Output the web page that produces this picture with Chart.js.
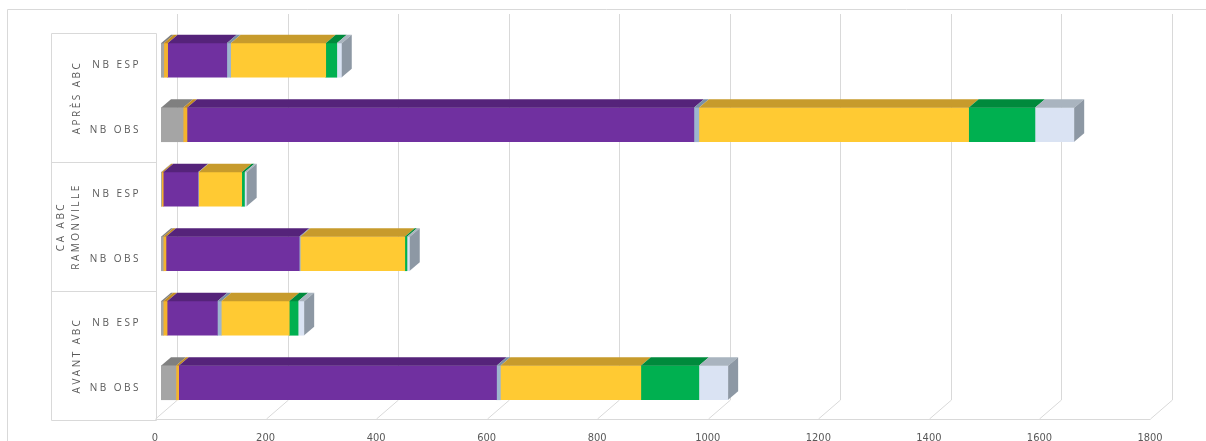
<!DOCTYPE html>
<html><head><meta charset="utf-8">
<script src="https://cdn.jsdelivr.net/npm/chart.js@4.4.1/dist/chart.umd.min.js"></script>
<style>html,body{margin:0;padding:0;background:#fff;overflow:hidden}#wrap{width:1206px;height:441px;position:relative}</style>
</head><body><div id="wrap"><canvas id="c" width="1206" height="441"></canvas></div>
<script>
// ---- data (top to bottom) ----
const categories = ['NB ESP', 'NB OBS', 'NB ESP', 'NB OBS', 'NB ESP', 'NB OBS'];
const groupLabels = [['APRÈS ABC'], ['CA ABC', 'RAMONVILLE'], ['AVANT ABC']];
const xTickValues = [0, 200, 400, 600, 800, 1000, 1200, 1400, 1600, 1800];
const serie1 = [5, 40, 1, 4, 4, 27];        // gris
const serie2 = [7, 7, 3, 5, 7, 5];          // orange
const serie3 = [107, 917, 63, 241, 91, 575]; // violet
const serie4 = [7, 9, 1, 2, 7, 7];          // bleu gris
const serie5 = [172, 488, 78, 189, 123, 254]; // jaune
const serie6 = [20, 120, 5, 4, 16, 105];    // vert
const serie7 = [9, 71, 4, 5, 11, 53];       // bleu pâle
const seriesNames = ['Série 1', 'Série 2', 'Série 3', 'Série 4', 'Série 5', 'Série 6', 'Série 7'];
const seriesValues = [serie1, serie2, serie3, serie4, serie5, serie6, serie7];

const frontColors = ['#A5A5A5', '#F4B32E', '#7030A0', '#9DB5CF', '#FFCA33', '#00B050', '#DAE3F3'];
const topColors   = ['#808080', '#C38C22', '#55237A', '#7A90A6', '#C79B2C', '#008A3C', '#A9B4BF'];
const sideColors  = ['#777777', '#B4811E', '#4A1F6B', '#6F8499', '#B78E28', '#007A35', '#8D98A4'];

const DX = 10, DY = 8.5;          // bar depth
const FDX = 22, FDY = 19;         // floor depth
const GRID = '#D9D9D9';

const threeD = {
  id: 'threeD',
  beforeDraw(chart) {
    const ctx = chart.ctx;
    ctx.letterSpacing = '2.5px';
    ctx.save();
    ctx.letterSpacing = '0px';
    ctx.strokeStyle = GRID; ctx.lineWidth = 1;
    ctx.beginPath();
    ctx.moveTo(7.5, 441); ctx.lineTo(7.5, 9.5); ctx.lineTo(1206, 9.5);
    ctx.stroke();
    ctx.restore();
  },
  beforeDatasetsDraw(chart) {
    const ctx = chart.ctx, xs = chart.scales.x, ys = chart.scales.y;
    const area = chart.chartArea;
    const floorY = area.bottom + 4;
    const backBottom = floorY - FDY;
    const backTop = area.top - FDY + 5;
    ctx.save();
    ctx.strokeStyle = GRID; ctx.lineWidth = 1;
    xTickValues.forEach(v => {
      const xf = Math.round(xs.getPixelForValue(v) - 6) + 0.5;
      const xb = xf + FDX;
      ctx.beginPath();
      ctx.moveTo(xb, backTop); ctx.lineTo(xb, backBottom); ctx.lineTo(xf, floorY);
      ctx.stroke();
    });
    const x0 = Math.round(xs.getPixelForValue(0) - 6) + 0.5;
    const x1 = Math.round(xs.getPixelForValue(1800) - 6) + 0.5;
    ctx.beginPath(); ctx.moveTo(x0, floorY + 0.5); ctx.lineTo(x1, floorY + 0.5); ctx.stroke();
    const step = ys.getPixelForValue(1) - ys.getPixelForValue(0);
    const b = [];
    for (let g = 0; g <= 3; g++) b.push(Math.round(ys.getPixelForValue(g * 2) - step / 2 + 5) + 0.5);
    const fl = 51.5, fr = x0 + 1;
    ctx.beginPath();
    ctx.moveTo(fl, b[0]); ctx.lineTo(fl, b[3]);
    ctx.moveTo(fr, b[0]); ctx.lineTo(fr, b[3]);
    b.forEach(y => { ctx.moveTo(fl, y); ctx.lineTo(fr, y); });
    ctx.stroke();
    ctx.restore();
  },
  afterDatasetsDraw(chart) {
    const ctx = chart.ctx;
    ctx.save();
    const n = categories.length;
    for (let i = 0; i < seriesValues.length; i++) {
      const meta = chart.getDatasetMeta(i);
      meta.data.forEach((el, j) => {
        if (!(seriesValues[i][j] > 0)) return;
        const p = el.getProps(['x', 'y', 'base', 'height'], true);
        const top = p.y - p.height / 2;
        ctx.fillStyle = topColors[i];
        ctx.beginPath();
        ctx.moveTo(p.base, top); ctx.lineTo(p.base + DX, top - DY);
        ctx.lineTo(p.x + DX, top - DY); ctx.lineTo(p.x, top); ctx.closePath();
        ctx.fill();
      });
    }
    for (let j = 0; j < n; j++) {
      let last = -1;
      for (let i = 0; i < seriesValues.length; i++) if (seriesValues[i][j] > 0) last = i;
      if (last < 0) continue;
      const p = chart.getDatasetMeta(last).data[j].getProps(['x', 'y', 'base', 'height'], true);
      const top = p.y - p.height / 2, bot = p.y + p.height / 2;
      ctx.fillStyle = sideColors[last];
      ctx.beginPath();
      ctx.moveTo(p.x, top); ctx.lineTo(p.x + DX, top - DY);
      ctx.lineTo(p.x + DX, bot - DY); ctx.lineTo(p.x, bot); ctx.closePath();
      ctx.fill();
    }
    ctx.restore();
    ctx.letterSpacing = '0px';
  },
  afterDraw(chart) {
    const ctx = chart.ctx, ys = chart.scales.y;
    ctx.save();
    ctx.letterSpacing = '2.5px';
    ctx.font = '10px "Open Sans", sans-serif';
    ctx.fillStyle = '#595959';
    ctx.textAlign = 'center'; ctx.textBaseline = 'middle';
    groupLabels.forEach((lines, g) => {
      const cy = (ys.getPixelForValue(g * 2) + ys.getPixelForValue(g * 2 + 1)) / 2 + 5;
      const xs0 = lines.length === 1 ? [77] : [61, 76];
      lines.forEach((t, k) => {
        ctx.save();
        ctx.translate(xs0[k], cy);
        ctx.rotate(-Math.PI / 2);
        ctx.fillText(t, 0, 0);
        ctx.restore();
      });
    });
    ctx.restore();
    ctx.letterSpacing = '0px';
  }
};

new Chart(document.getElementById('c'), {
  type: 'bar',
  data: {
    labels: categories,
    datasets: seriesValues.map((vals, i) => ({
      label: seriesNames[i],
      data: vals,
      backgroundColor: frontColors[i],
      borderWidth: 0,
      barThickness: 34,
      stack: 's'
    }))
  },
  options: {
    indexAxis: 'y',
    responsive: false,
    animation: false,
    devicePixelRatio: 1,
    layout: { padding: { left: 0, right: 50, top: 28, bottom: 0 } },
    plugins: { legend: { display: false }, tooltip: { enabled: false } },
    scales: {
      x: {
        stacked: true,
        min: 0, max: 1800,
        grid: { display: false },
        border: { display: false },
        ticks: {
          stepSize: 200,
          z: 1,
          padding: 9,
          labelOffset: -6,
          color: '#595959',
          font: { family: '"Liberation Sans Narrow", "DejaVu Sans Condensed", sans-serif', size: 11 },
          maxRotation: 0,
          autoSkip: false,
          callback: v => String(v)
        },
        afterFit(scale) { scale.height = 26; }
      },
      y: {
        stacked: true,
        grid: { display: false },
        border: { display: false },
        ticks: {
          padding: 12,
          labelOffset: 5,
          color: '#595959',
          font: { family: '"Open Sans", sans-serif', size: 10 }
        },
        afterFit(scale) { scale.width = 161; }
      }
    }
  },
  plugins: [threeD]
});
</script>
</body></html>
